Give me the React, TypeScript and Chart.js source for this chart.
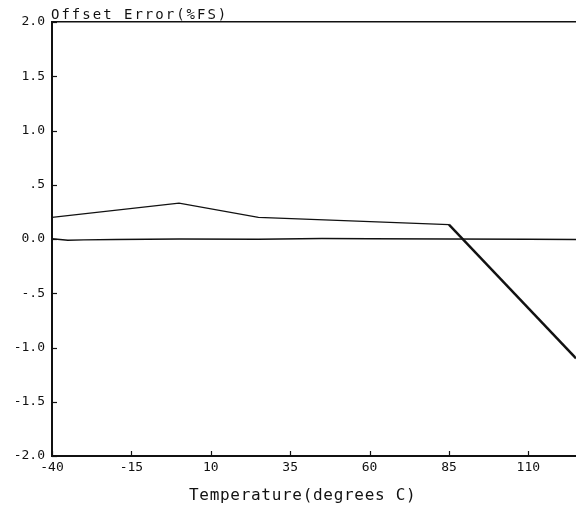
import React, { useEffect, useRef } from 'react';
import { Chart, registerables } from 'chart.js';

Chart.register(...registerables);

const offsetTemps = [-40, 0, 25, 85, 125];
const offsetValues = [0.2, 0.33, 0.2, 0.133, -1.1];

const zeroTemps = [-40, -35, -30, -20, 0, 25, 45, 60, 85, 110, 125];
const zeroValues = [0.002, -0.012, -0.008, -0.004, 0, -0.002, 0.004, 0.002, 0, -0.002, -0.005];

const xTickValues = [-40, -15, 10, 35, 60, 85, 110];
const yTickValues = [2, 1.5, 1, 0.5, 0, -0.5, -1, -1.5, -2];
const yTickLabels = ['2.0', '1.5', '1.0', '.5', '0.0', '-.5', '-1.0', '-1.5', '-2.0'];

const yTitle = 'Offset Error(%FS)';
const xTitle = 'Temperature(degrees C)';

const FONT = "'DejaVu Sans Mono', monospace";

const decorPlugin = {
  id: 'decor',
  afterDraw(chart: any) {
    const { ctx, chartArea, scales } = chart;
    const x = scales.x;
    const y = scales.y;
    ctx.save();
    ctx.strokeStyle = '#111';
    ctx.lineWidth = 1.2;
    // inner tick marks
    x.ticks.forEach((_t: any, i: number) => {
      const px = Math.round(x.getPixelForTick(i)) + 0.5;
      ctx.beginPath();
      ctx.moveTo(px, chartArea.bottom);
      ctx.lineTo(px, chartArea.bottom - 5);
      ctx.stroke();
    });
    y.ticks.forEach((_t: any, i: number) => {
      const py = Math.round(y.getPixelForTick(i)) + 0.5;
      ctx.beginPath();
      ctx.moveTo(chartArea.left, py);
      ctx.lineTo(chartArea.left + 5, py);
      ctx.stroke();
    });
    // titles
    ctx.fillStyle = '#111';
    ctx.textBaseline = 'alphabetic';
    ctx.textAlign = 'left';
    ctx.font = `14px ${FONT}`;
    (ctx as any).letterSpacing = '2px';
    ctx.fillText(yTitle, chartArea.left - 1, 18.5);
    ctx.font = `16px ${FONT}`;
    (ctx as any).letterSpacing = '0.7px';
    ctx.fillText(xTitle, 189, 500);
    (ctx as any).letterSpacing = '0px';
    ctx.restore();
  },
};

export default function App() {
  const canvasRef = useRef<HTMLCanvasElement | null>(null);

  useEffect(() => {
    document.body.style.margin = '0';
    const canvas = canvasRef.current;
    if (!canvas) return;
    const chart = new Chart(canvas, {
      type: 'line',
      data: {
        datasets: [
          {
            data: offsetTemps.map((t, i) => ({ x: t, y: offsetValues[i] })),
            borderColor: '#111',
            borderWidth: 1.2,
            pointRadius: 0,
            tension: 0,
            segment: {
              borderWidth: (c: any) => (c.p0DataIndex === offsetTemps.length - 2 ? 2.4 : 1.2),
            },
          },
          {
            data: zeroTemps.map((t, i) => ({ x: t, y: zeroValues[i] })),
            borderColor: '#111',
            borderWidth: 1.4,
            pointRadius: 0,
            tension: 0,
          },
        ],
      },
      plugins: [decorPlugin],
      options: {
        responsive: false,
        animation: false,
        layout: { padding: { top: 22, right: 0, left: 0, bottom: 0 } },
        plugins: {
          legend: { display: false },
          tooltip: { enabled: false },
          title: { display: false },
        },
        scales: {
          x: {
            type: 'linear',
            min: -40,
            max: 125,
            afterBuildTicks: (scale: any) => {
              scale.ticks = xTickValues.map((v) => ({ value: v }));
            },
            afterFit: (scale: any) => {
              scale.height = 54;
            },
            grid: { display: true, drawOnChartArea: false, drawTicks: false, color: 'rgba(0,0,0,0)' },
            border: { display: true, color: '#111', width: 2 },
            ticks: {
              color: '#111',
              font: { family: FONT, size: 13 },
              padding: 4,
              maxRotation: 0,
              autoSkip: false,
              callback: (v: any) => String(v),
            },
          },
          y: {
            type: 'linear',
            min: -2,
            max: 2,
            afterBuildTicks: (scale: any) => {
              scale.ticks = yTickValues.map((v) => ({ value: v }));
            },
            afterFit: (scale: any) => {
              scale.width = 52;
            },
            grid: {
              drawTicks: false,
              drawOnChartArea: true,
              color: (c: any) => (c.tick && c.tick.value === 2 ? '#111' : 'rgba(0,0,0,0)'),
              lineWidth: (c: any) => (c.tick && c.tick.value === 2 ? 1.5 : 0),
            },
            border: { display: true, color: '#111', width: 2 },
            ticks: {
              color: '#111',
              font: { family: FONT, size: 13 },
              padding: 7,
              autoSkip: false,
              callback: (v: any) => {
                const i = yTickValues.indexOf(Number(v));
                return i >= 0 ? yTickLabels[i] : '';
              },
            },
          },
        },
      },
    } as any);
    return () => chart.destroy();
  }, []);

  return <canvas ref={canvasRef} width={576} height={510} style={{ display: 'block' }} />;
}
